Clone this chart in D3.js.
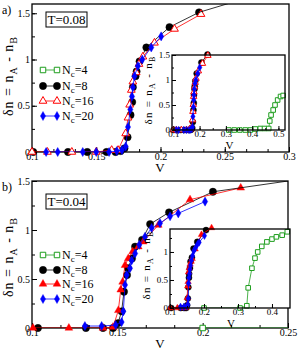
<!DOCTYPE html>
<html>
<head>
<meta charset="utf-8">
<script src="https://cdn.jsdelivr.net/npm/d3@7"></script>
<style>
  body { margin: 0; background: #fff; }
  svg text { font-family: "Liberation Serif", "DejaVu Serif", serif; fill: #000; }
</style>
</head>
<body>
<div id="chart"></div>
<script>
// ---- T = 0.08 (panel a) ----
const aNc4V  = [0.311, 0.332, 0.353, 0.374, 0.393, 0.412, 0.431, 0.447, 0.463, 0.467, 0.472, 0.48, 0.487, 0.497, 0.508, 0.518];
const aNc4Dn = [0, 0, 0, 0, 0, 0.02, 0.03, 0.03, 0.03, 0.18, 0.3, 0.4, 0.5, 0.6, 0.67, 0.69];
const aNc8V  = [0.101, 0.128, 0.143, 0.158, 0.165, 0.169, 0.172, 0.1744, 0.1767, 0.178, 0.1785, 0.1806, 0.1814, 0.1837, 0.189, 0.207, 0.23];
const aNc8Dn = [0, 0, 0, 0, 0, 0.01, 0.04, 0.16, 0.4, 0.54, 0.7, 0.82, 0.87, 0.98, 1.13, 1.35, 1.51];
const aNc16V  = [0.1, 0.112, 0.131, 0.15, 0.162, 0.167, 0.1729, 0.1747, 0.176, 0.1773, 0.1785, 0.1811, 0.1832, 0.1863, 0.1953, 0.2109, 0.2315];
const aNc16Dn = [0, 0, 0, 0, 0.02, 0.02, 0.2, 0.37, 0.51, 0.67, 0.76, 0.86, 0.95, 1.03, 1.18, 1.33, 1.49];
const aNc20V  = [0.111, 0.12, 0.1395, 0.15, 0.16, 0.166, 0.17, 0.1729, 0.1747, 0.1765, 0.1778, 0.1785, 0.1798, 0.1824, 0.1858, 0.1928, 0.2005];
const aNc20Dn = [0, 0, 0, 0, 0, 0.01, 0.02, 0.06, 0.27, 0.46, 0.6, 0.7, 0.82, 0.93, 1.0, 1.13, 1.25];
const aFitV  = [0.23, 0.254];
const aFitDn = [1.51, 1.61];

// ---- T = 0.04 (panel b) ----
const bNc4V  = [0.2, 0.306, 0.326, 0.33, 0.341, 0.35, 0.358, 0.37, 0.385, 0.4, 0.413, 0.43, 0.445];
const bNc4Dn = [0, 0, 0.04, 0.36, 0.71, 0.89, 1.0, 1.1, 1.18, 1.23, 1.27, 1.3, 1.36];
const bNc8V  = [0.1035, 0.1316, 0.1416, 0.1475, 0.1504, 0.1525, 0.1539, 0.1557, 0.1562, 0.1586, 0.1604, 0.1645, 0.1692, 0.1803, 0.206];
const bNc8Dn = [0, 0, 0, 0, 0.05, 0.17, 0.37, 0.54, 0.61, 0.71, 0.83, 0.9, 1.06, 1.18, 1.39];
const bNc16V  = [0.1006, 0.1216, 0.1416, 0.1475, 0.1506, 0.152, 0.1531, 0.1545, 0.1564, 0.159, 0.1623, 0.1652, 0.174, 0.1926, 0.2223];
const bNc16Dn = [0, 0, 0, 0.01, 0.18, 0.39, 0.47, 0.64, 0.71, 0.78, 0.83, 0.88, 1.05, 1.31, 1.43];
const bNc20V  = [0.131, 0.1408, 0.149, 0.1525, 0.1535, 0.1545, 0.1555, 0.1574, 0.1584, 0.1604, 0.1629, 0.1662, 0.1701, 0.175, 0.1809, 0.1857, 0.2014];
const bNc20Dn = [0.02, 0.02, 0.03, 0.06, 0.17, 0.44, 0.54, 0.61, 0.69, 0.76, 0.85, 0.93, 1.02, 1.07, 1.14, 1.17, 1.29];
const bFitV  = [0.206, 0.25];
const bFitDn = [1.39, 1.5];

// ---- ticks / labels ----
const aXTicks = [0.1, 0.15, 0.2, 0.25, 0.3];
const bXTicks = [0.1, 0.15, 0.2, 0.25];
const aYTicks = [0, 0.5, 1, 1.5];
const bYTicks = [0, 0.5, 1, 1.5];
const aInsetXTicks = [0.1, 0.2, 0.3, 0.4, 0.5];
const bInsetXTicks = [0.1, 0.2, 0.3, 0.4];
const aInsetYTicks = [0, 0.5, 1, 1.5];
const bInsetYTicks = [0, 0.5, 1];
const legendLabels = ["4", "8", "16", "20"];

const W = 299, H = 351;
const green = "#1e9e1e", red = "#ff0000", blue = "#0000ff";

const svg = d3.select("#chart").append("svg")
    .attr("width", W).attr("height", H);

let clipCount = 0;

function addAxes(g, x, y, o) {
    const fmt = d3.format("~g");
    const [xa, xb] = x.range(), [ya, yb] = y.range();
    const strip = sel => sel.select(".domain").remove();

    g.append("g").attr("transform", `translate(0,${ya})`)
        .call(d3.axisBottom(x).tickValues(o.xMinor).tickSize(-o.minor).tickFormat(""))
        .call(strip);
    g.append("g").attr("transform", `translate(0,${ya})`)
        .call(d3.axisBottom(x).tickValues(o.xTicks).tickSize(-o.major).tickFormat(fmt))
        .call(strip)
        .selectAll("text").attr("y", o.pad).attr("font-size", o.font);
    g.append("g").attr("transform", `translate(${xa},0)`)
        .call(d3.axisLeft(y).tickValues(o.yMinor).tickSize(-o.minor).tickFormat(""))
        .call(strip);
    g.append("g").attr("transform", `translate(${xa},0)`)
        .call(d3.axisLeft(y).tickValues(o.yTicks).tickSize(-o.major).tickFormat(fmt))
        .call(strip)
        .selectAll("text").attr("x", -o.pad - 1).attr("font-size", o.font);

    g.selectAll(".tick line").attr("stroke", "#000").attr("stroke-width", 1);
    g.selectAll(".tick text").attr("font-family", null);

    g.append("rect")
        .attr("x", xa).attr("y", yb).attr("width", xb - xa).attr("height", ya - yb)
        .attr("fill", "none").attr("stroke", "#000").attr("stroke-width", 1.3);
}

function drawSeries(g, x, y, clipId, vs, ds, st) {
    const pts = vs.map((v, i) => [v, ds[i]]);
    const line = d3.line().x(d => x(d[0])).y(d => y(d[1]));
    g.append("path")
        .attr("d", line(pts))
        .attr("clip-path", `url(#${clipId})`)
        .attr("fill", "none").attr("stroke", st.color).attr("stroke-width", 0.8);

    if (!st.symbol) return;
    const [x0, x1] = x.domain();
    const sym = d3.symbol().type(st.symbol).size(st.size);
    g.selectAll(null)
        .data(pts.filter(d => d[0] >= x0 - 1e-6 && d[0] <= x1 + 1e-6))
        .enter().append("path")
        .attr("transform", d => `translate(${x(d[0])},${y(d[1])})`)
        .attr("d", sym)
        .attr("fill", st.fill)
        .attr("stroke", st.color)
        .attr("stroke-width", st.open ? 1 : 0.4);
}

function addClip(x, y) {
    const id = "clip" + (clipCount++);
    const [xa, xb] = x.range(), [ya, yb] = y.range();
    svg.append("clipPath").attr("id", id)
        .append("rect").attr("x", xa).attr("y", yb).attr("width", xb - xa).attr("height", ya - yb);
    return id;
}

function dnLabel(g, cx, cy, size, spacing) {
    const t = g.append("text")
        .attr("transform", `translate(${cx},${cy}) rotate(-90)`)
        .attr("text-anchor", "middle")
        .attr("letter-spacing", spacing)
        .attr("font-size", size);
    t.append("tspan").text("δn = n");
    t.append("tspan").text("A").attr("font-size", size * 0.72).attr("dy", size * 0.28);
    t.append("tspan").text(" - n").attr("dy", -size * 0.28);
    t.append("tspan").text("B").attr("font-size", size * 0.72).attr("dy", size * 0.28);
}

function PhasePanel(conf) {
    let self = this;

    self.g = svg.append("g");
    self.x = d3.scaleLinear().domain(conf.xDomain).range([conf.box.left, conf.box.right]);
    self.y = d3.scaleLinear().domain(conf.yDomain).range([conf.box.bottom, conf.box.top]);
    self.clip = addClip(self.x, self.y);

    addAxes(self.g, self.x, self.y, {
        xTicks: conf.xTicks, xMinor: conf.xMinor, yTicks: conf.yTicks, yMinor: conf.yMinor,
        major: 5, minor: 3, pad: 1, font: 10
    });

    // data
    conf.series.forEach(s => drawSeries(self.g, self.x, self.y, self.clip, s.v, s.d, s.style));
    drawSeries(self.g, self.x, self.y, self.clip, conf.fit.v, conf.fit.d, {color: "#000"});

    // axis titles
    self.g.append("text").attr("x", 160).attr("y", conf.box.bottom + 20)
        .attr("text-anchor", "middle").attr("font-size", 13).text("V");
    dnLabel(self.g, 13, conf.yLabelY, 14, 1);
    self.g.append("text").attr("x", 2).attr("y", conf.box.top + 10)
        .attr("font-size", 12).text(conf.tag);

    // temperature box
    self.g.append("rect").attr("x", 46).attr("y", conf.tBoxY).attr("width", 41).attr("height", 15)
        .attr("fill", "#fff").attr("stroke", "#000").attr("stroke-width", 1);
    self.g.append("text").attr("x", 66.5).attr("y", conf.tBoxY + 12)
        .attr("text-anchor", "middle").attr("font-size", 13).text(conf.tLabel);

    // legend
    conf.series.forEach((s, i) => {
        const ly = conf.legendY[i];
        const lg = self.g.append("g");
        lg.append("line").attr("x1", 43).attr("x2", 57).attr("y1", ly).attr("y2", ly)
            .attr("stroke", s.style.color).attr("stroke-width", 0.8);
        const sym = d3.symbol().type(s.style.symbol).size(s.style.size);
        [43, 57].forEach(lx => lg.append("path")
            .attr("transform", `translate(${lx},${ly})`).attr("d", sym)
            .attr("fill", s.style.fill).attr("stroke", s.style.color)
            .attr("stroke-width", s.style.open ? 1 : 0.4));
        const t = lg.append("text").attr("x", 62).attr("y", ly + 4).attr("font-size", 12);
        t.append("tspan").text("N");
        t.append("tspan").text("c").attr("font-size", 9).attr("dy", 3);
        t.append("tspan").text("=" + legendLabels[i]).attr("dy", -3);
    });

    // inset
    const ib = conf.inset.box;
    const ix = d3.scaleLinear().domain(conf.inset.xDomain).range([ib.left, ib.right]);
    const iy = d3.scaleLinear().domain(conf.inset.yDomain).range([ib.bottom, ib.top]);
    const ig = svg.append("g");
    ig.append("rect").attr("x", ib.left).attr("y", ib.top)
        .attr("width", ib.right - ib.left).attr("height", ib.bottom - ib.top).attr("fill", "#fff");
    const iclip = addClip(ix, iy);
    conf.series.forEach(s => drawSeries(ig, ix, iy, iclip, s.v, s.d,
        Object.assign({}, s.style, {size: s.style.size * 0.7})));
    addAxes(ig, ix, iy, {
        xTicks: conf.inset.xTicks, xMinor: conf.inset.xMinor,
        yTicks: conf.inset.yTicks, yMinor: conf.inset.yMinor,
        major: 4, minor: 2, pad: 1, font: 9
    });
    ig.append("text").attr("x", (ib.left + ib.right) / 2 + 1).attr("y", ib.bottom + 19)
        .attr("text-anchor", "middle").attr("font-size", 11).text("V");
    dnLabel(ig, ib.left - 20, conf.inset.yLabelY, 11, 1.3);
}

const circle = d3.symbolCircle, square = d3.symbolSquare,
      triangle = d3.symbolTriangle, diamond = d3.symbolDiamond;

new PhasePanel({
    tag: "a)", tLabel: "T=0.08", tBoxY: 12, yLabelY: 76,
    box: {left: 32, right: 289, top: 4, bottom: 152},
    xDomain: [0.1, 0.3], yDomain: [0, 1.6],
    xTicks: aXTicks, xMinor: d3.range(0.1, 0.3001, 0.05 / 3),
    yTicks: aYTicks, yMinor: d3.range(0, 1.6, 0.25),
    legendY: [70, 86, 101, 116],
    series: [
        {v: aNc4V, d: aNc4Dn, style: {color: green, fill: "#fff", symbol: square, size: 30, open: true}},
        {v: aNc8V, d: aNc8Dn, style: {color: "#000", fill: "#000", symbol: circle, size: 42}},
        {v: aNc16V, d: aNc16Dn, style: {color: red, fill: "#fff", symbol: triangle, size: 26, open: true}},
        {v: aNc20V, d: aNc20Dn, style: {color: blue, fill: blue, symbol: diamond, size: 24}}
    ],
    fit: {v: aFitV, d: aFitDn},
    inset: {
        box: {left: 172, right: 285, top: 55, bottom: 130},
        xDomain: [0.095, 0.525], yDomain: [0, 1.5],
        xTicks: aInsetXTicks, xMinor: d3.range(0.1, 0.52, 0.05),
        yTicks: aInsetYTicks, yMinor: d3.range(0, 1.5, 0.25),
        yLabelY: 90
    }
});

new PhasePanel({
    tag: "b)", tLabel: "T=0.04", tBoxY: 194, yLabelY: 257,
    box: {left: 32, right: 288, top: 181, bottom: 328},
    xDomain: [0.1, 0.25], yDomain: [0, 1.5],
    xTicks: bXTicks, xMinor: d3.range(0.1, 0.2501, 0.05 / 3),
    yTicks: bYTicks, yMinor: d3.range(0, 1.5, 0.25),
    legendY: [255, 270, 284, 299],
    series: [
        {v: bNc4V, d: bNc4Dn, style: {color: green, fill: "#fff", symbol: square, size: 30, open: true}},
        {v: bNc8V, d: bNc8Dn, style: {color: "#000", fill: "#000", symbol: circle, size: 42}},
        {v: bNc16V, d: bNc16Dn, style: {color: red, fill: red, symbol: triangle, size: 26}},
        {v: bNc20V, d: bNc20Dn, style: {color: blue, fill: blue, symbol: diamond, size: 24}}
    ],
    fit: {v: bFitV, d: bFitDn},
    inset: {
        box: {left: 170, right: 290, top: 229, bottom: 308},
        xDomain: [0.1, 0.453], yDomain: [0, 1.41],
        xTicks: bInsetXTicks, xMinor: d3.range(0.1, 0.45, 0.05),
        yTicks: bInsetYTicks, yMinor: d3.range(0, 1.41, 0.25),
        yLabelY: 265
    }
});
</script>
</body>
</html>
